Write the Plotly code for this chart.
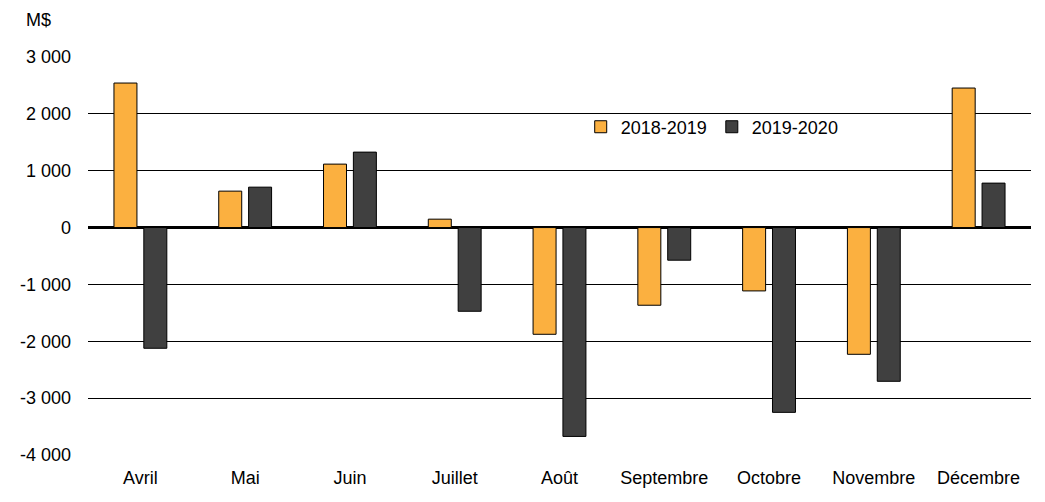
import plotly.graph_objects as go

months = ["Avril", "Mai", "Juin", "Juillet", "Août", "Septembre", "Octobre", "Novembre", "Décembre"]
s2018 = [2542, 641, 1116, 148, -1877, -1366, -1114, -2229, 2454]
s2019 = [-2123, 711, 1327, -1472, -3673, -574, -3250, -2704, 782]
series_names = ["2018-2019", "2019-2020"]
ytick_vals = [-4000, -3000, -2000, -1000, 0, 1000, 2000, 3000]
ytick_text = ["-4 000", "-3 000", "-2 000", "-1 000", "0", "1 000", "2 000", "3 000"]

font = "Liberation Sans, Arial, sans-serif"

fig = go.Figure()
fig.add_trace(go.Bar(x=months, y=s2018, name=series_names[0],
                     marker=dict(color="#FBB040", line=dict(color="black", width=1))))
fig.add_trace(go.Bar(x=months, y=s2019, name=series_names[1],
                     marker=dict(color="#404040", line=dict(color="black", width=1))))

fig.update_layout(
    width=1045, height=502,
    margin=dict(l=78, r=22, t=49, b=55),
    plot_bgcolor="white", paper_bgcolor="white",
    barmode="group", bargap=0.43, bargroupgap=0.23,
    font=dict(family=font, size=18, color="black"),
    legend=dict(orientation="h", x=0.5225, y=0.824, xanchor="left", yanchor="middle",
                font=dict(size=18), bgcolor="rgba(0,0,0,0)", itemwidth=30,
                tracegroupgap=0),
    showlegend=True,
    annotations=[dict(text="M$", x=-0.0677, y=1.093, xref="paper", yref="paper",
                      xanchor="left", yanchor="middle", showarrow=False,
                      font=dict(size=18))],
)
fig.update_xaxes(showgrid=False, showline=False, ticks="", ticklabelstandoff=10,
                 tickfont=dict(size=18))
fig.update_yaxes(range=[-4000, 3000], tickvals=ytick_vals, ticktext=ytick_text,
                 showgrid=True, gridcolor="black", gridwidth=1,
                 zeroline=True, zerolinecolor="black", zerolinewidth=3,
                 showline=False, ticks="", ticklabelstandoff=16, tickfont=dict(size=18))

fig.write_html("out.html")
